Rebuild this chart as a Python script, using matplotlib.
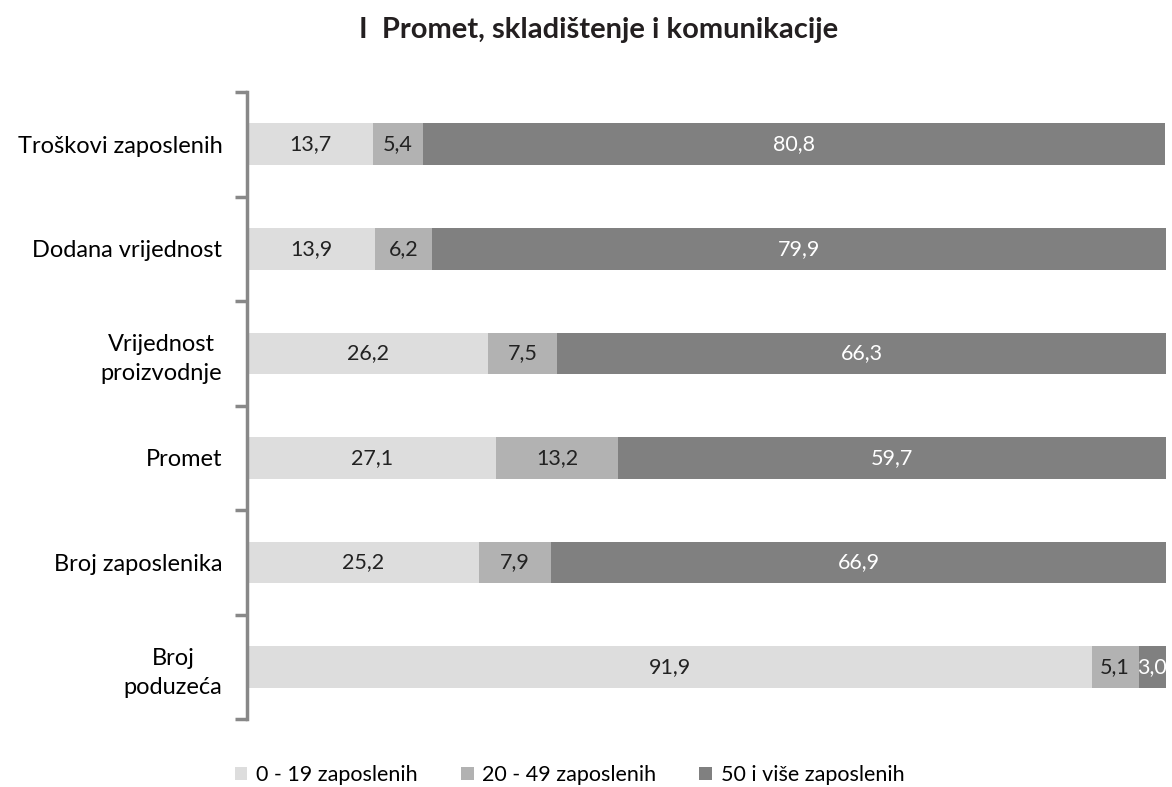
import matplotlib.pyplot as plt
import numpy as np

plt.rcParams['font.family'] = ['Lato', 'DejaVu Sans']

categories = ["Troškovi zaposlenih", "Dodana vrijednost", "Vrijednost\nproizvodnje",
              "Promet", "Broj zaposlenika", "Broj\npoduzeća"]
small = [13.7, 13.9, 26.2, 27.1, 25.2, 91.9]
medium = [5.4, 6.2, 7.5, 13.2, 7.9, 5.1]
large = [80.8, 79.9, 66.3, 59.7, 66.9, 3.0]
series_names = ["0 - 19 zaposlenih", "20 - 49 zaposlenih", "50 i više zaposlenih"]
colors = ["#dddddd", "#b2b2b2", "#808080"]
text_colors = ["#222222", "#222222", "white"]

fig = plt.figure(figsize=(11.72, 7.87), dpi=100)
ax = fig.add_axes([0.211, 0.086, 0.784, 0.797])

y = np.arange(len(categories))
left = np.zeros(len(categories))
for vals, name, c, tc in zip([small, medium, large], series_names, colors, text_colors):
    vals = np.array(vals)
    bars = ax.barh(y, vals, left=left, height=0.4, color=c, label=name)
    for b, v in zip(bars, vals):
        ax.text(b.get_x() + b.get_width() / 2, b.get_y() + b.get_height() / 2,
                f"{v:.1f}".replace(".", ","), ha="center", va="center",
                fontsize=15.5, color=tc, clip_on=True)
    left += vals

ax.set_xlim(0, 100)
ax.set_ylim(len(categories) - 0.45, -0.45)
ax.set_xticks([])
ax.set_yticks(y)
ax.set_yticklabels(categories, fontsize=17, multialignment="center", linespacing=1.45)
ax.tick_params(axis="y", which="major", length=0, pad=18)
ax.set_yticks(np.arange(-0.5, len(categories)), minor=True)
ax.tick_params(axis="y", which="minor", length=9, width=2.5, color="#888888", direction="out")
for s in ["top", "right", "bottom"]:
    ax.spines[s].set_visible(False)
ax.spines["left"].set_color("#888888")
ax.spines["left"].set_linewidth(2.5)
ax.spines["left"].set_bounds(len(categories) - 0.5, -0.5)
ax.set_ylim(len(categories) - 0.5, -0.5)

fig.text(0.511, 0.962, "I  Promet, skladištenje i komunikacije", ha="center", va="center",
         fontsize=21, fontweight="bold", color="#231f20")

fig.legend(loc="center", bbox_to_anchor=(0.486, 0.015), ncol=3, frameon=False,
           fontsize=15.5, handlelength=0.6, handleheight=0.6, handletextpad=0.4,
           columnspacing=2.0)

fig.savefig("out.png", dpi=100)
